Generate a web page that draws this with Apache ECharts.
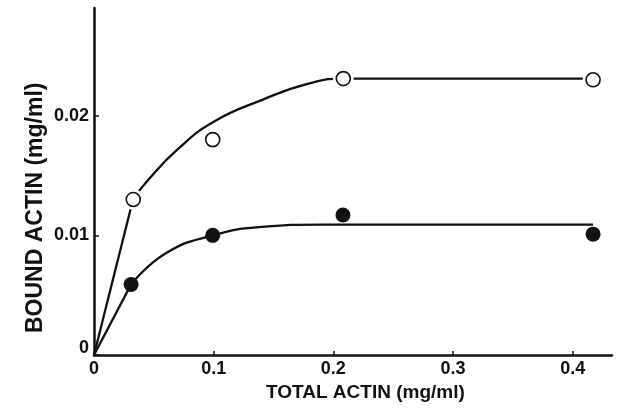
<!DOCTYPE html>
<html><head><meta charset="utf-8">
<script src="https://cdn.jsdelivr.net/npm/echarts@6/dist/echarts.min.js"></script>
<style>html,body{margin:0;padding:0;background:#fff}#c{width:618px;height:411px}</style>
</head><body><div id="c"></div>
<script>
// Measured points
const openPts = [[0.0328, 0.0130], [0.0992, 0.0180], [0.2083, 0.0231], [0.417, 0.0230]];
const filledPts = [[0.031, 0.0059], [0.0992, 0.0100], [0.208, 0.0117], [0.417, 0.0101]];
// Fitted curves (straight rise from origin, then curved part)
const openRise = [[0, 0], [0.0326, 0.0130]];
const openCurve = [[0.0326, 0.0130], [0.045, 0.0146], [0.07, 0.0172], [0.1, 0.0195], [0.14, 0.0213], [0.18, 0.0227], [0.21, 0.0231], [0.417, 0.0231]];
const filledRise = [[0, 0], [0.031, 0.0059]];
const filledCurve = [[0.031, 0.0059], [0.06, 0.0085], [0.0992, 0.0100], [0.14, 0.0107], [0.19, 0.0109], [0.417, 0.0109]];
const xTicks = [0, 0.1, 0.2, 0.3, 0.4];
const yTicks = [0, 0.01, 0.02];
const xTitle = 'TOTAL ACTIN (mg/ml)';
const yTitle = 'BOUND ACTIN (mg/ml)';

const chart = echarts.init(document.getElementById('c'));
const ink = '#111';
const lbl = { color: ink, fontFamily: 'Liberation Sans, Arial, sans-serif', fontWeight: 'bold', fontSize: 18 };
const lineSeries = (data, smooth) => ({ type: 'line', data, smooth, showSymbol: false, silent: true, lineStyle: { color: ink, width: 2.3 }, z: 2 });
chart.setOption({
  animation: false,
  backgroundColor: '#fff',
  grid: { left: 94, top: 8, right: 6, bottom: 56 },
  xAxis: {
    type: 'value', min: 0, max: 0.4328,
    axisLine: { lineStyle: { color: ink, width: 2.5 } },
    axisTick: { inside: true, length: 4, lineStyle: { color: ink, width: 1.5 }, customValues: xTicks },
    axisLabel: Object.assign({ margin: 5, customValues: xTicks, formatter: v => String(+v.toFixed(2)) }, lbl),
    splitLine: { show: false }
  },
  yAxis: {
    type: 'value', min: 0, max: 0.029,
    axisLine: { show: true, lineStyle: { color: ink, width: 2.5 } },
    axisTick: { show: true, inside: true, length: 5, lineStyle: { color: ink, width: 1.5 }, customValues: yTicks },
    axisLabel: Object.assign({ margin: 5, customValues: yTicks,
      formatter: v => v === 0 ? '{z|0}' : String(+v.toFixed(3)),
      rich: { z: Object.assign({ padding: [0, 0, 14, 0] }, lbl) } }, lbl),
    splitLine: { show: false }
  },
  graphic: [
    { type: 'text', left: 266, top: 383, style: { text: xTitle, fill: ink, font: 'bold 19px "Liberation Sans", Arial, sans-serif' } },
    { type: 'text', x: 24, y: 333, rotation: Math.PI / 2, style: { text: yTitle, fill: ink, font: 'bold 23px "Liberation Sans", Arial, sans-serif' } }
  ],
  series: [
    lineSeries(openRise, false),
    lineSeries(openCurve, 0.5),
    lineSeries(filledRise, false),
    lineSeries(filledCurve, 0.5),
    { type: 'scatter', data: openPts, symbol: 'circle', symbolSize: 21, itemStyle: { color: '#fff', opacity: 1 }, z: 3 },
    { type: 'scatter', data: openPts, symbol: 'circle', symbolSize: 14, itemStyle: { color: '#fff', borderColor: ink, borderWidth: 1.6, opacity: 1 }, z: 4 },
    { type: 'scatter', data: filledPts, symbol: 'circle', symbolSize: 15, itemStyle: { color: ink, opacity: 1 }, z: 4 }
  ]
});
</script></body></html>
